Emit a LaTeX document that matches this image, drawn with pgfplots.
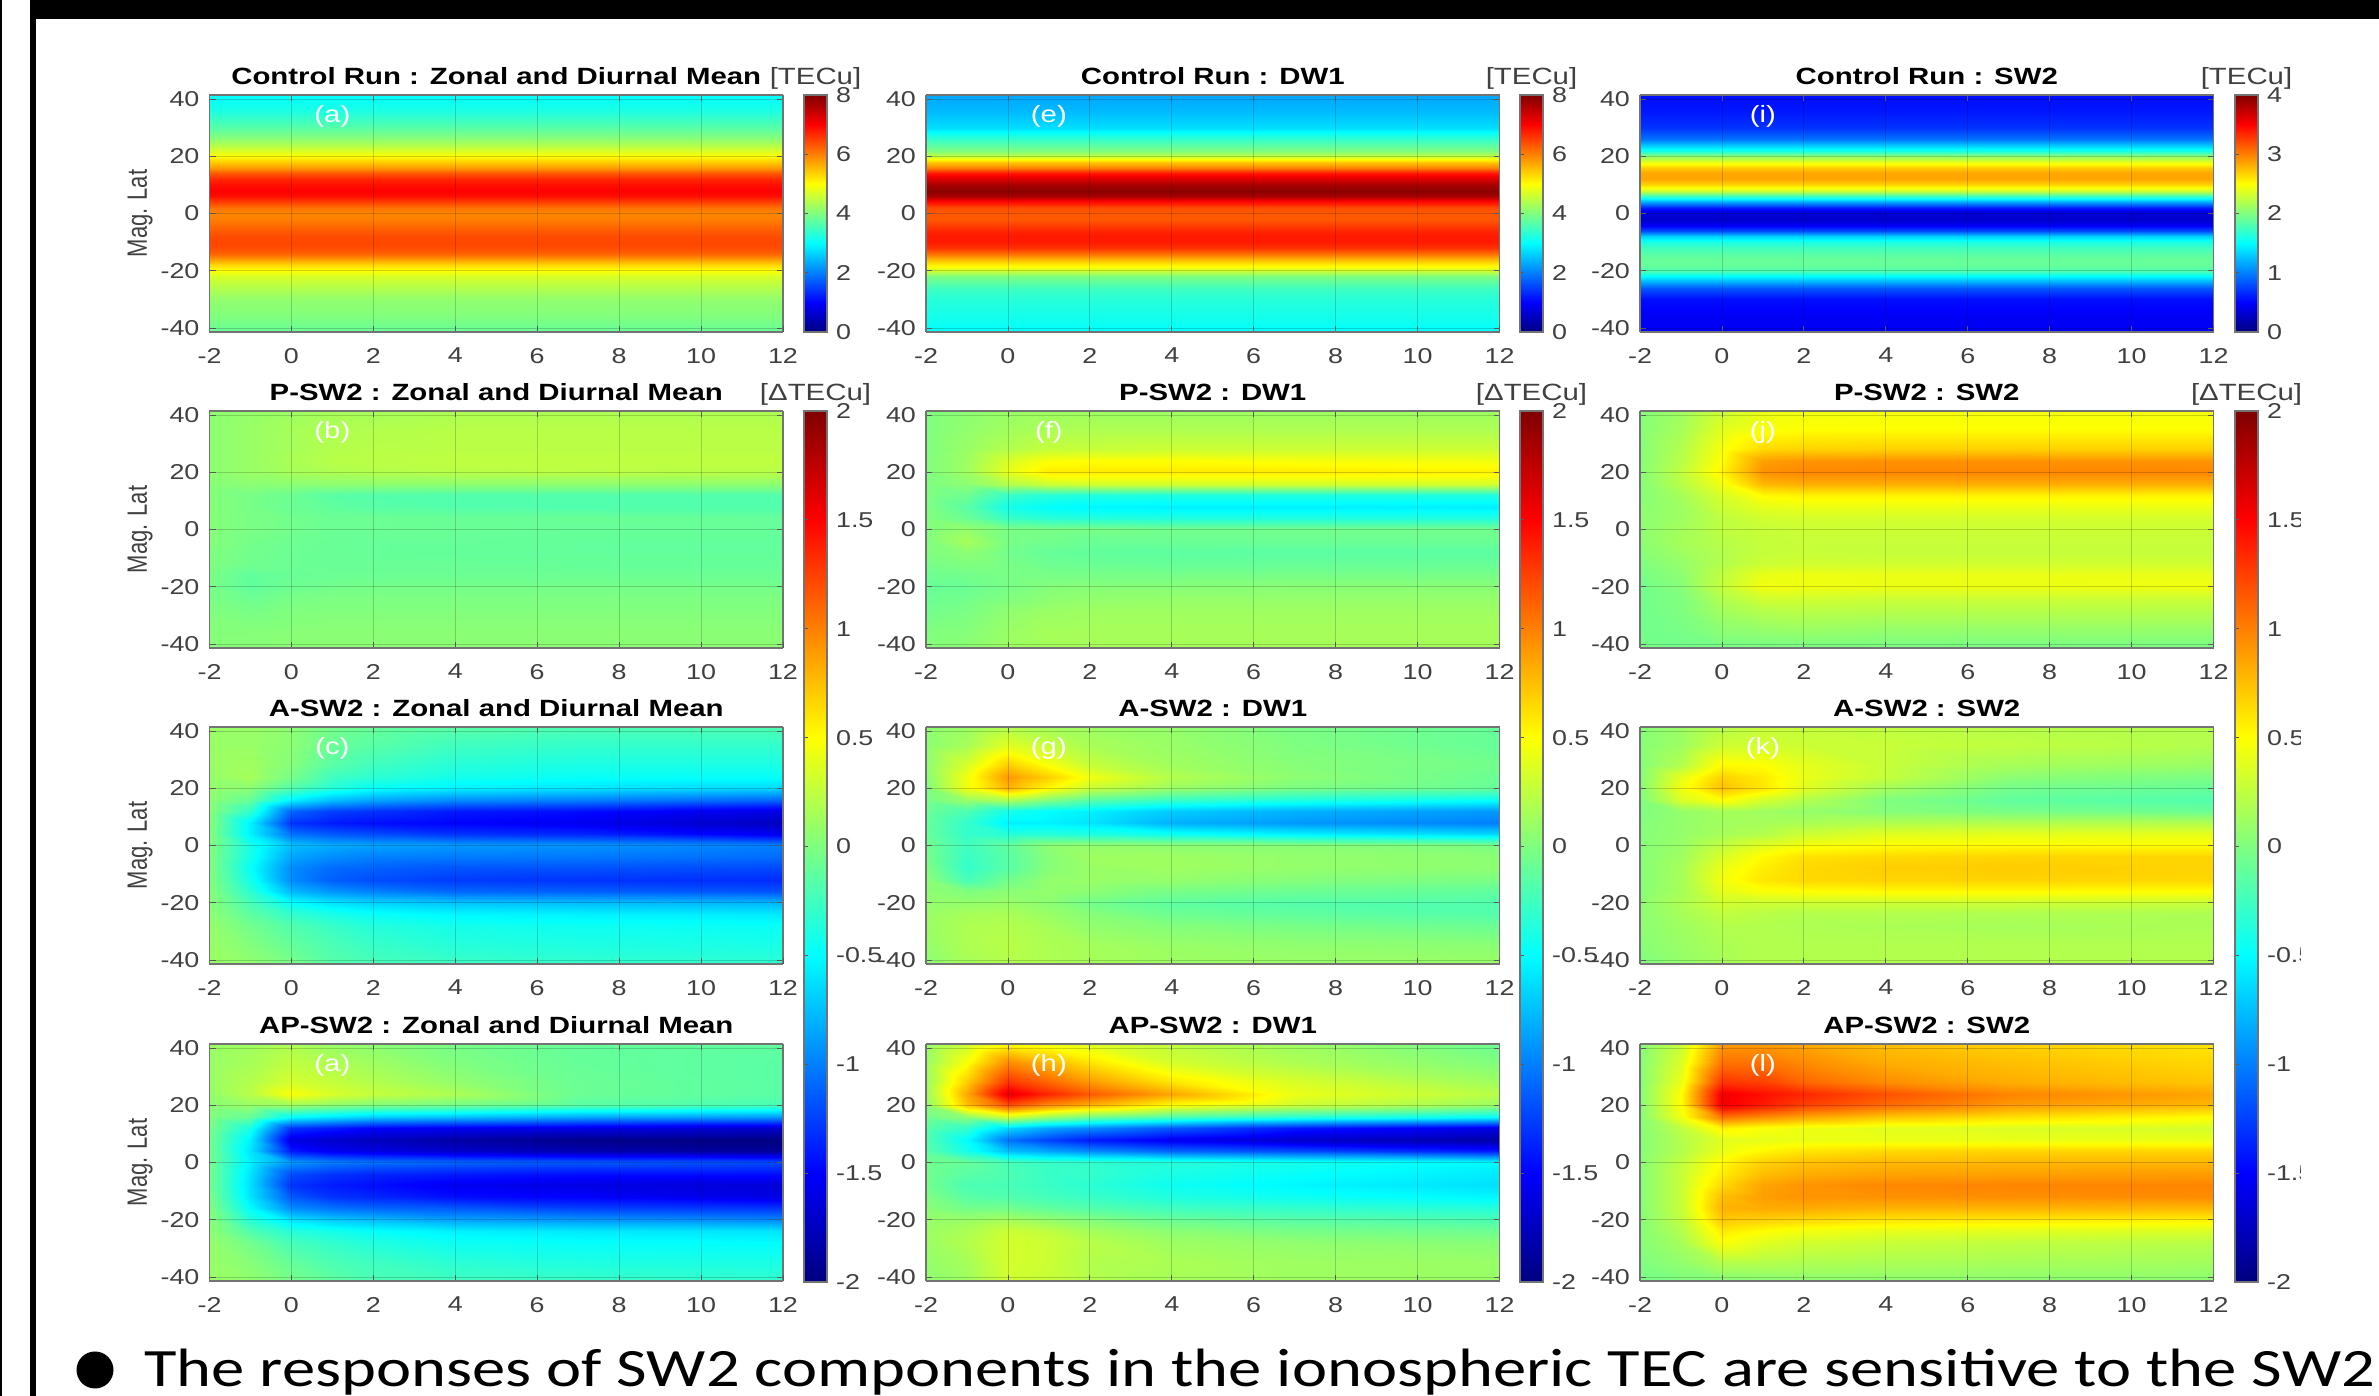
\documentclass[border=0pt]{standalone}
\usepackage{fontspec}
\usepackage{pgfplots}
\usepackage{pgfplotstable}
\usepackage{graphicx}
\pgfplotsset{compat=1.18}
\setmainfont{Liberation Sans}[FakeStretch=1.25]
\newfontfamily\plainfont{Liberation Sans}
\newfontfamily\bodyfont{Carlito}[FakeStretch=1.232]
\newcommand\fsT{\fontsize{11.75pt}{13pt}\selectfont}
\newcommand\fsK{\fontsize{10.75pt}{12pt}\selectfont}
\definecolor{labgray}{gray}{0.25}
\pgfplotsset{colormap={matjet}{rgb(0cm)=(0,0,0.5) rgb(1cm)=(0,0,1) rgb(3cm)=(0,1,1) rgb(5cm)=(1,1,0) rgb(7cm)=(1,0,0) rgb(8cm)=(0.5,0,0)}}

\pgfplotstableread{
y a e i
41.4 3.0 2.3 .55
36 3.2 2.45 .58
30 3.7 2.75 .7
26 4.1 3.4 .95
22 4.7 4.0 1.6
20 5.0 4.5 2.05
18 5.4 5.4 2.4
16 5.8 6.0 2.7
14 6.3 6.8 2.85
12 6.7 7.3 2.85
10 6.9 7.7 2.65
8 7.0 7.9 2.3
6 6.9 7.7 1.75
4 6.5 6.9 1.15
2 6.1 6.4 .6
0 5.95 6.3 .35
-2 6.0 6.3 .3
-4 6.15 6.5 .45
-6 6.3 6.7 .8
-8 6.4 6.8 1.3
-10 6.45 6.8 1.6
-12 6.4 6.6 1.75
-14 6.2 6.1 1.85
-16 5.8 5.6 1.9
-18 5.3 5.1 1.9
-20 4.95 4.6 1.8
-22 4.7 4.0 1.5
-26 4.4 3.5 .85
-30 4.15 3.3 .55
-36 4.0 3.15 .47
-41.4 3.8 3.0 .47
}\tTop

\pgfplotstableread{
y c0 c1 c2 c3 c4 c5 c6 c7
41.4 .05 .08 .12 .15 .15 .18 .18 .18
35 .05 .10 .15 .18 .20 .22 .22 .22
28 .05 .10 .15 .2 .22 .23 .23 .23
24 .05 .10 .17 .22 .23 .25 .25 .25
20 .05 .10 .15 .18 .2 .22 .23 .22
16 .03 .05 .05 .06 .06 .06 .06 .06
12 .02 -.03 -.08 -.15 -.17 -.18 -.18 -.18
8 .02 -.03 -.08 -.12 -.15 -.17 -.18 -.18
4 .02 -.02 -.05 -.08 -.08 -.09 -.09 -.1
0 .02 -.02 -.05 -.08 -.08 -.09 -.1 -.1
-4 .02 -.04 -.07 -.09 -.1 -.1 -.11 -.11
-8 0 -.05 -.08 -.09 -.1 -.11 -.11 -.11
-12 0 -.06 -.08 -.09 -.09 -.09 -.1 -.1
-16 -.02 -.12 -.09 -.08 -.08 -.08 -.08 -.08
-20 -.03 -.12 -.07 -.05 -.04 -.04 -.04 -.04
-24 -.02 -.07 -.03 -.01 -.01 -.01 -.01 -.01
-28 0 -.03 0 .01 .01 .01 .01 .01
-35 .02 .02 .03 .04 .04 .04 .04 .04
-41.4 .03 .03 .05 .05 .05 .05 .05 .05
}\tB

\pgfplotstableread{
y c0 c1 c2 c3 c4 c5 c6 c7
41.4 0 .05 .1 .12 .12 .12 .12 .12
35 0 .07 .13 .17 .18 .18 .18 .18
28 0 .1 .2 .27 .28 .3 .3 .3
24 0 .12 .35 .48 .5 .5 .47 .45
20 0 .12 .4 .58 .58 .58 .58 .55
16 0 .05 .2 .3 .33 .33 .33 .33
12 0 -.07 -.28 -.35 -.37 -.38 -.38 -.38
8 0 -.15 -.42 -.5 -.53 -.55 -.55 -.56
4 0 -.08 -.28 -.34 -.36 -.38 -.38 -.38
0 0 .08 -.02 -.03 -.03 -.05 -.05 -.05
-4 0 .15 -.03 -.05 -.08 -.08 -.08 -.08
-8 0 .05 -.05 -.1 -.12 -.13 -.14 -.14
-12 -.03 0 -.03 -.07 -.08 -.1 -.1 -.09
-16 -.07 -.05 -.03 -.03 -.03 -.03 -.03 -.03
-20 -.1 -.08 -.03 .02 .03 .03 .04 .04
-24 -.08 -.05 0 .05 .07 .08 .08 .08
-28 -.05 -.02 .06 .1 .12 .12 .12 .12
-35 0 .02 .1 .15 .15 .15 .15 .15
-41.4 .02 .05 .12 .15 .15 .15 .15 .15
}\tF

\pgfplotstableread{
y c0 c1 c2 c3 c4 c5 c6 c7
41.4 .02 .12 .3 .42 .45 .46 .46 .46
35 .03 .15 .38 .47 .5 .5 .5 .5
28 .03 .2 .47 .65 .67 .68 .68 .68
24 .03 .22 .5 .88 .92 .93 .93 .92
20 .03 .25 .55 .93 .97 .97 .97 .97
16 .03 .22 .45 .78 .82 .82 .82 .82
12 .03 .15 .35 .52 .55 .55 .55 .55
8 .05 .12 .3 .4 .42 .42 .42 .42
4 .05 .12 .25 .32 .33 .33 .33 .33
0 .05 .14 .25 .28 .3 .3 .3 .3
-4 .05 .15 .22 .27 .28 .28 .28 .28
-8 .03 .12 .2 .27 .28 .27 .27 .27
-12 0 .08 .2 .3 .32 .32 .32 .32
-16 -.03 .05 .25 .42 .44 .42 .42 .42
-20 -.05 .03 .27 .45 .44 .42 .42 .44
-24 -.05 0 .2 .32 .32 .3 .3 .3
-28 -.05 0 .14 .22 .23 .22 .22 .22
-35 -.05 -.03 .05 .08 .1 .08 .08 .08
-41.4 -.03 -.05 -.03 -.03 -.03 -.03 -.03 -.03
}\tJ

\pgfplotstableread{
y c0 c1 c2 c3 c4 c5 c6 c7
41.4 .1 .1 .05 -.05 -.1 -.15 -.2 -.2
35 .1 .1 .05 -.08 -.15 -.25 -.3 -.3
28 .1 .13 .02 -.15 -.25 -.35 -.4 -.4
24 .08 .15 -.03 -.25 -.33 -.42 -.47 -.48
20 .08 .05 -.18 -.35 -.48 -.55 -.6 -.65
16 .05 -.1 -.55 -.75 -.85 -.95 -1.0 -1.1
12 .03 -.3 -1.1 -1.25 -1.3 -1.4 -1.45 -1.6
8 .02 -.55 -1.3 -1.4 -1.45 -1.5 -1.55 -1.75
4 0 -.55 -1.05 -1.15 -1.2 -1.3 -1.35 -1.55
0 0 -.4 -.75 -.82 -.86 -.9 -.92 -1.0
-4 0 -.42 -.85 -.95 -1.0 -1.02 -1.03 -1.08
-8 0 -.47 -.95 -1.08 -1.12 -1.17 -1.18 -1.22
-12 0 -.42 -.95 -1.13 -1.2 -1.27 -1.3 -1.33
-16 .02 -.33 -.78 -.92 -1.0 -1.1 -1.13 -1.18
-20 .03 -.22 -.48 -.6 -.66 -.72 -.75 -.78
-24 .05 -.13 -.3 -.4 -.47 -.53 -.55 -.58
-28 .08 -.05 -.18 -.28 -.36 -.42 -.45 -.47
-35 .1 .02 -.1 -.2 -.28 -.35 -.38 -.4
-41.4 .1 .07 -.02 -.16 -.22 -.27 -.3 -.32
}\tC

\pgfplotstableread{
y c0 c1 c2 c3 c4 c5 c6 c7
41.4 .1 .12 .18 .1 .05 -.03 -.1 -.12
35 .1 .15 .25 .18 .12 0 -.1 -.15
28 .1 .2 .33 .27 .2 .08 -.08 -.15
24 .08 .22 .48 .35 .27 .18 -.08 -.15
20 .05 .1 .12 .05 0 -.05 -.15 -.22
16 0 -.1 -.5 -.6 -.7 -.75 -.85 -.9
12 -.03 -.4 -1.3 -1.4 -1.5 -1.55 -1.6 -1.7
8 -.05 -.55 -1.6 -1.7 -1.75 -1.85 -1.95 -2
4 -.05 -.6 -1.4 -1.55 -1.6 -1.7 -1.8 -1.9
0 -.05 -.55 -.9 -1 -1.05 -1.1 -1.15 -1.2
-4 -.05 -.6 -1.2 -1.3 -1.35 -1.4 -1.45 -1.45
-8 -.05 -.62 -1.3 -1.4 -1.45 -1.55 -1.6 -1.65
-12 -.03 -.6 -1.15 -1.3 -1.35 -1.45 -1.5 -1.6
-16 0 -.5 -.95 -1.05 -1.1 -1.15 -1.25 -1.3
-20 .03 -.35 -.6 -.7 -.75 -.85 -.9 -.95
-24 .05 -.18 -.35 -.42 -.48 -.55 -.58 -.6
-28 .08 -.05 -.22 -.3 -.37 -.45 -.48 -.5
-35 .1 .03 -.1 -.2 -.25 -.33 -.38 -.4
-41.4 .1 .07 -.03 -.12 -.2 -.25 -.28 -.3
}\tD

\pgfplotstableread{
y c0 c1 c2 c3 c4 c5 c6 c7
41.4 .05 .1 .2 .15 .12 .08 -.02 -.1
35 .05 .15 .38 .27 .16 .1 0 -.1
28 .05 .35 .7 .48 .28 .13 .03 -.05
24 .03 .45 .9 .68 .45 .2 .05 -.08
20 0 .45 .8 .52 .28 .1 -.02 -.1
16 -.03 .1 .18 0 -.15 -.28 -.38 -.48
12 -.08 -.2 -.42 -.5 -.55 -.7 -.8 -.9
8 -.1 -.3 -.55 -.55 -.6 -.8 -.9 -1.0
4 -.1 -.3 -.35 -.35 -.38 -.45 -.55 -.65
0 -.05 -.25 -.12 .05 .07 .05 .03 -.02
-4 -.03 -.28 -.15 .03 .12 .12 .08 .05
-8 0 -.3 -.15 .03 .1 .12 .08 .05
-12 .05 -.22 -.05 .08 .1 .08 .02 -.02
-16 .05 0 .05 .08 .05 -.03 -.08 -.12
-20 .07 .08 .1 .05 -.05 -.13 -.17 -.18
-24 .1 .15 .17 .1 .03 -.07 -.12 -.17
-28 .1 .18 .2 .15 .07 .02 -.03 -.08
-35 .08 .18 .22 .18 .15 .1 .07 .05
-41.4 .05 .15 .2 .18 .15 .12 .1 .1
}\tG

\pgfplotstableread{
y c0 c1 c2 c3 c4 c5 c6 c7
41.4 .08 .3 .52 .45 .38 .25 .12 -.08
35 .1 .48 .95 .78 .6 .33 .18 0
28 .1 .7 1.3 1.1 .9 .6 .35 .12
24 .1 .85 1.6 1.35 1.15 .85 .42 .22
20 .05 .75 1.2 .95 .8 .5 .3 .1
16 -.05 .05 .3 .1 -.05 -.2 -.35 -.5
12 -.15 -.3 -.65 -.85 -.95 -1.15 -1.4 -1.6
8 -.18 -.5 -1.05 -1.25 -1.4 -1.55 -1.7 -1.85
4 -.15 -.42 -.75 -.85 -.95 -1.1 -1.2 -1.4
0 -.05 -.1 -.22 -.28 -.3 -.35 -.42 -.52
-4 -.05 -.15 -.2 -.28 -.3 -.4 -.48 -.58
-8 -.05 -.2 -.22 -.28 -.33 -.45 -.53 -.62
-12 0 -.15 -.18 -.23 -.28 -.38 -.45 -.53
-16 .03 -.05 -.05 -.12 -.17 -.25 -.3 -.36
-20 .08 .1 .15 .08 .02 -.08 -.15 -.2
-24 .1 .17 .3 .25 .15 .05 -.03 -.07
-28 .1 .2 .33 .3 .22 .12 .07 .03
-35 .08 .15 .33 .3 .2 .17 .12 .1
-41.4 .06 .12 .32 .28 .2 .15 .12 .1
}\tH

\pgfplotstableread{
y c0 c1 c2 c3 c4 c5 c6 c7
41.4 .03 .1 .22 .28 .27 .25 .22 .2
35 .03 .12 .3 .33 .3 .28 .25 .2
28 .02 .2 .52 .5 .4 .28 .15 .1
24 .02 .4 .68 .58 .42 .27 .05 -.02
20 .02 .45 .75 .6 .38 .14 -.05 -.1
16 0 .35 .5 .33 .2 0 -.12 -.18
12 0 .08 .15 .12 .08 .02 -.03 -.08
8 .02 .08 .13 .15 .17 .2 .2 .2
4 .02 .08 .15 .2 .3 .38 .4 .4
0 .03 .1 .25 .38 .46 .5 .51 .5
-4 .03 .12 .35 .52 .62 .65 .67 .67
-8 .03 .15 .42 .57 .65 .69 .7 .67
-12 .03 .15 .45 .6 .65 .67 .67 .65
-16 .03 .15 .4 .48 .5 .52 .52 .5
-20 .05 .18 .32 .3 .3 .3 .3 .28
-24 .05 .15 .25 .22 .2 .2 .18 .17
-28 .05 .12 .2 .2 .18 .17 .15 .17
-35 .03 .1 .17 .2 .2 .2 .2 .2
-41.4 0 .08 .15 .2 .2 .2 .2 .2
}\tK

\pgfplotstableread{
y c0 c1 c2 c3 c4 c5 c6 c7
41.4 .02 .28 .9 .9 .85 .75 .68 .6
35 .03 .35 1.05 1.05 .95 .82 .75 .65
28 .03 .42 1.3 1.25 1.1 .95 .82 .72
24 .03 .5 1.55 1.45 1.35 1.18 .98 .85
20 .03 .5 1.55 1.4 1.25 1.08 .9 .78
16 .03 .45 1.05 .95 .85 .72 .62 .5
12 .03 .25 .55 .47 .43 .39 .36 .33
8 .03 .2 .38 .4 .42 .42 .42 .42
4 .03 .2 .42 .53 .6 .65 .67 .67
0 .03 .25 .52 .68 .74 .78 .78 .78
-4 .03 .28 .57 .76 .82 .86 .87 .89
-8 .03 .28 .65 .86 .92 .97 .98 .98
-12 .03 .28 .76 .88 .92 .93 .94 .95
-16 .03 .28 .8 .83 .83 .8 .8 .78
-20 .03 .25 .72 .68 .65 .6 .58 .55
-24 .03 .2 .58 .5 .45 .4 .38 .35
-28 .03 .15 .48 .38 .32 .28 .25 .22
-35 0 .07 .2 .2 .18 .17 .15 .13
-41.4 -.03 0 .02 .03 .05 .05 .05 .05
}\tL

% turn a wide table (one row per latitude, one column per day) into (x,y,z) coordinates
\newcommand\flatten[2]{%
  \gdef\flatacc{}%
  \edef\collist{#2}%
  \pgfplotstablegetrowsof{#1}%
  \pgfmathtruncatemacro\lastrow{\pgfplotsretval-1}%
  \foreach \rw in {0,...,\lastrow}{%
    \pgfplotstablegetelem{\rw}{[index]0}\of{#1}%
    \let\yy\pgfplotsretval
    \foreach \cl/\xx in \collist {%
      \pgfplotstablegetelem{\rw}{[index]\cl}\of{#1}%
      \xdef\flatacc{\flatacc (\xx,\yy,\pgfplotsretval)}%
    }%
  }%
}
\def\wideX{1/-2,2/-1,3/0,4/1,5/2,6/4,7/7,8/12}

\pgfplotsset{
  base/.style={
    scale only axis, clip=true,
    axis line style={draw=black!55,line width=0.6pt},
    tick style={draw=black!65,line width=0.4pt},
    major tick length=3pt,
    tick align=inside,
    tick label style={text=labgray,font=\fsK},
    title style={font=\fsT\bfseries,text=black,at={(axis description cs:0.5,1)},anchor=base,yshift=-1pt,inner sep=0pt},
  },
  panel/.style={
    base,
    view={0}{90},
    width=286.75pt,height=118.5pt,
    xmin=-2,xmax=12,ymin=-41.4,ymax=41.4,
    xtick={-2,0,2,4,6,8,10,12},
    xticklabels={-2,0,2,4,6,8,10,12},
    ytick={-40,-20,0,20,40},
    yticklabels={-40,-20,0,20,40},
    ztick=\empty,
    grid=major,
    major grid style={draw=black,opacity=0.18,line width=0.4pt},
    axis on top,
    colormap name=matjet,
    xticklabel style={yshift=-4.5pt},
    yticklabel style={xshift=-1.5pt},
    ylabel style={at={(axis description cs:-0.121,0.5)},anchor=center,inner sep=0pt,text=labgray},
  },
  mlat/.style={ylabel={\scalebox{1}[1.27]{\plainfont\fontsize{11pt}{12pt}\selectfont Mag. Lat}}},
  cbar/.style={
    base,
    width=11.5pt,
    colormap name=matjet,
    xmin=0,xmax=1,
    xtick=\empty,
    axis on top,
    ytick pos=left, yticklabel pos=right,
    major tick length=2pt,
    yticklabel style={xshift=1pt},
    title style={font=\fsT\mdseries,text=labgray},
  },
}
% #1 left px, #2 top px, #3 extra options, #4 title, #5 table, #6 columns, #7 mesh cols, #8 cmin, #9 cmax
\newcommand\panelplot[9]{%
  \flatten{#5}{#6}%
  \edef\plotcmd{\noexpand\addplot3[surf,shader=interp,mesh/cols=#7] coordinates {\flatacc};}%
  \begin{axis}[panel,#3,at={({#1*0.5pt},{(1396-#2-237)*0.5pt})},anchor=south west,
     title={#4},point meta min=#8,point meta max=#9]
    \plotcmd
    \node[text=white,font=\fsT,inner sep=0pt] at (axis cs:1,34,0) {\panelletter};
  \end{axis}%
}
\newcommand\colourbar[7]{% left, top, height, vmin, vmax, ticks, title
  \begin{axis}[cbar,at={({#1*0.5pt},{(1396-#2-#3)*0.5pt})},anchor=south west,
     height=#3*0.5pt,ymin=#4,ymax=#5,ytick={#6},yticklabels={#6},title={#7},
     point meta min=#4,point meta max=#5]
    \addplot[surf,shader=interp,mesh/cols=2,point meta=y] coordinates {(0,#4) (1,#4) (0,#5) (1,#5)};
  \end{axis}%
}

\begin{document}
\begin{tikzpicture}[x=1pt,y=1pt]
\useasboundingbox (0,0) rectangle (1189.5,698);
\fill[white] (0,0) rectangle (1189.5,698);

\def\colA{209.5}\def\colB{926}\def\colC{1640}
\def\rI{95}\def\rII{411}\def\rIII{727}\def\rIV{1044}

\def\panelletter{(a)}\panelplot{\colA}{\rI}{mlat}{Control Run : Zonal and Diurnal Mean}{\tTop}{1/-2,1/12}{2}{0}{8}
\def\panelletter{(e)}\panelplot{\colB}{\rI}{}{Control Run : DW1}{\tTop}{2/-2,2/12}{2}{0}{8}
\def\panelletter{(i)}\panelplot{\colC}{\rI}{}{Control Run : SW2}{\tTop}{3/-2,3/12}{2}{0}{4}

\def\panelletter{(b)}\panelplot{\colA}{\rII}{mlat}{P-SW2 : Zonal and Diurnal Mean}{\tB}{\wideX}{8}{-2}{2}
\def\panelletter{(f)}\panelplot{\colB}{\rII}{}{P-SW2 : DW1}{\tF}{\wideX}{8}{-2}{2}
\def\panelletter{(j)}\panelplot{\colC}{\rII}{}{P-SW2 : SW2}{\tJ}{\wideX}{8}{-2}{2}

\def\panelletter{(c)}\panelplot{\colA}{\rIII}{mlat}{A-SW2 : Zonal and Diurnal Mean}{\tC}{\wideX}{8}{-2}{2}
\def\panelletter{(g)}\panelplot{\colB}{\rIII}{}{A-SW2 : DW1}{\tG}{\wideX}{8}{-2}{2}
\def\panelletter{(k)}\panelplot{\colC}{\rIII}{}{A-SW2 : SW2}{\tK}{\wideX}{8}{-2}{2}

\def\panelletter{(a)}\panelplot{\colA}{\rIV}{mlat}{AP-SW2 : Zonal and Diurnal Mean}{\tD}{\wideX}{8}{-2}{2}
\def\panelletter{(h)}\panelplot{\colB}{\rIV}{}{AP-SW2 : DW1}{\tH}{\wideX}{8}{-2}{2}
\def\panelletter{(l)}\panelplot{\colC}{\rIV}{}{AP-SW2 : SW2}{\tL}{\wideX}{8}{-2}{2}

\colourbar{804}{95}{237}{0}{8}{0,2,4,6,8}{[TECu]}
\colourbar{1520}{95}{237}{0}{8}{0,2,4,6,8}{[TECu]}
\colourbar{2235}{95}{237}{0}{4}{0,1,2,3,4}{[TECu]}
\colourbar{804}{411}{871}{-2}{2}{-2,-1.5,-1,-0.5,0,0.5,1,1.5,2}{[ΔTECu]}
\colourbar{1520}{411}{871}{-2}{2}{-2,-1.5,-1,-0.5,0,0.5,1,1.5,2}{[ΔTECu]}
\colourbar{2235}{411}{871}{-2}{2}{-2,-1.5,-1,-0.5,0,0.5,1,1.5,2}{[ΔTECu]}

% the reference cuts off the right-hand labels of the lower rows
\fill[white] (1150.5,{(1396-1300)*0.5}) rectangle (1189.5,{(1396-375)*0.5});
% slide frame
\fill[black] (15,{(1396-19)*0.5}) rectangle (1189.5,698);
\fill[black] (15,0) rectangle (17.75,698);
\fill[black] (0,0) rectangle (1.2,698);
% slide text
\fill[black] ({95*0.5},{(1396-1370)*0.5}) circle (9.25);
\node[anchor=base west,inner sep=0pt,text=black] at ({144*0.5},{(1396-1387)*0.5}) {\bodyfont\fontsize{27pt}{30pt}\selectfont The responses of SW2 components in the ionospheric TEC are sensitive to the SW2};
\end{tikzpicture}
\end{document}
